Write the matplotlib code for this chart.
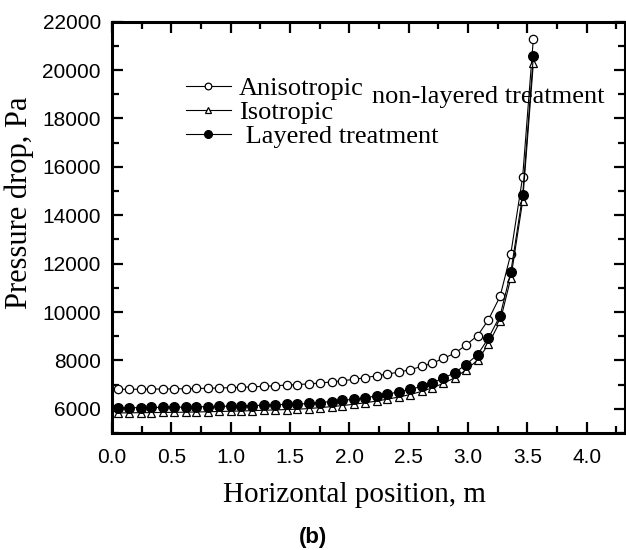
import matplotlib

matplotlib.use("Agg")

import matplotlib.pyplot as plt
from matplotlib.ticker import MultipleLocator


SERIF = ["Liberation Serif", "DejaVu Serif"]
SANS = ["Liberation Sans", "DejaVu Sans"]

POSITION = [
    0.05, 0.14, 0.24, 0.33, 0.43, 0.52, 0.62, 0.71, 0.81, 0.90,
    1.00, 1.09, 1.18, 1.28, 1.37, 1.47, 1.56, 1.66, 1.75, 1.85,
    1.94, 2.04, 2.13, 2.23, 2.32, 2.42, 2.51, 2.61, 2.70, 2.79,
    2.89, 2.98, 3.08, 3.17, 3.27, 3.36, 3.46, 3.55,
]

ANISOTROPIC = [
    6810, 6810, 6810, 6815, 6820, 6825, 6830, 6840, 6850, 6860,
    6875, 6890, 6910, 6930, 6955, 6980, 7005, 7030, 7068, 7109,
    7163, 7218, 7286, 7368, 7437, 7519, 7615, 7753, 7889, 8081,
    8300, 8628, 9026, 9668, 10653, 12407, 15600, 21300,
]

ISOTROPIC = [
    5830, 5835, 5840, 5845, 5850, 5855, 5860, 5870, 5880, 5890,
    5900, 5910, 5925, 5940, 5955, 5970, 5985, 6010, 6050, 6090,
    6135, 6190, 6250, 6320, 6400, 6490, 6590, 6720, 6870, 7050,
    7290, 7600, 8010, 8660, 9620, 11400, 14600, 20300,
]

LAYERED = [
    6040, 6045, 6050, 6055, 6060, 6065, 6070, 6080, 6090, 6100,
    6110, 6120, 6135, 6150, 6165, 6180, 6195, 6220, 6260, 6300,
    6345, 6400, 6460, 6530, 6610, 6700, 6800, 6930, 7080, 7260,
    7500, 7820, 8240, 8910, 9850, 11650, 14850, 20580,
]

X_TICKS = [0.0, 0.5, 1.0, 1.5, 2.0, 2.5, 3.0, 3.5, 4.0]
Y_TICKS = [6000, 8000, 10000, 12000, 14000, 16000, 18000, 20000, 22000]


def main():
    fig = plt.figure(figsize=(6.26, 5.5), dpi=100)
    ax = fig.add_axes([0.179, 0.2127, 0.819, 0.7478])

    common = dict(color="black", linewidth=0.8, markeredgewidth=0.9)

    ax.plot(
        POSITION, ANISOTROPIC,
        marker="o", markersize=6, markerfacecolor="white",
        label="Anisotropic", zorder=3, **common,
    )
    ax.plot(
        POSITION, ISOTROPIC,
        marker="^", markersize=6, markerfacecolor="white",
        label="Isotropic", zorder=3, **common,
    )
    ax.plot(
        POSITION, LAYERED,
        marker="o", markersize=7, markerfacecolor="black",
        label=" Layered treatment", zorder=4, **common,
    )

    ax.set_xlim(0.0, 4.32)
    ax.set_ylim(5000, 22000)
    ax.set_xticks(X_TICKS)
    ax.set_yticks(Y_TICKS)
    ax.xaxis.set_minor_locator(MultipleLocator(0.25))
    ax.yaxis.set_minor_locator(MultipleLocator(1000))

    for spine in ax.spines.values():
        spine.set_linewidth(2.2)

    ax.tick_params(
        which="both", direction="in",
        top=True, right=True, width=1.6,
    )
    ax.tick_params(which="major", length=8)
    ax.tick_params(which="minor", length=5)
    ax.tick_params(axis="x", which="major", pad=11)
    ax.tick_params(axis="y", which="major", pad=8)

    for label in ax.get_xticklabels() + ax.get_yticklabels():
        label.set_fontfamily(SANS)
        label.set_fontsize(15)

    ax.set_xlabel(
        "Horizontal position, m",
        fontfamily=SERIF, fontsize=21,
    )
    ax.xaxis.set_label_coords(0.472, -0.118)
    ax.set_ylabel(
        "Pressure drop, Pa",
        fontfamily=SERIF, fontsize=22,
    )
    ax.yaxis.set_label_coords(-0.152, 0.56)

    ax.legend(
        loc="upper left",
        bbox_to_anchor=(0.144, 0.866),
        frameon=False,
        prop={"family": SERIF, "size": 19},
        handlelength=1.7,
        handletextpad=0.3,
        labelspacing=0.02,
        borderpad=0,
        borderaxespad=0,
        markerscale=0.8,
    )

    ax.text(
        0.507, 0.818, "non-layered treatment",
        transform=ax.transAxes, va="center", ha="left",
        fontfamily=SERIF, fontsize=19,
    )

    fig.text(
        0.5, 1 - 537 / 550, "(b)",
        ha="center", va="center",
        fontfamily=SANS, fontsize=16, fontweight="bold",
    )

    fig.savefig("out.png", dpi=100)
    plt.close(fig)


if __name__ == "__main__":
    main()
